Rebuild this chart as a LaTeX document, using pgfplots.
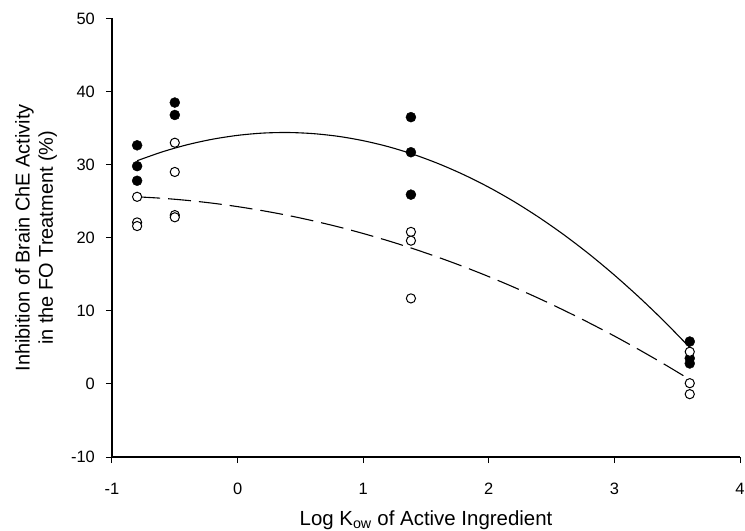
\documentclass[border=0pt]{standalone}
\usepackage{fontspec}
\setmainfont{Liberation Sans}
\usepackage{pgfplots}
\pgfplotsset{compat=1.18}
\begin{document}
\begin{tikzpicture}
\path[use as bounding box] (-112bp,-74bp) rectangle (633bp,457bp);
\begin{axis}[
  at={(0,0)}, anchor=south west,
  scale only axis, width=628bp, height=438.5bp,
  xmin=-1, xmax=4, ymin=-10, ymax=50,
  axis lines*=left,
  xtick={-1,0,1,2,3,4}, xticklabels={-1,0,1,2,3,4},
  ytick={-10,0,10,20,30,40,50}, yticklabels={-10,0,10,20,30,40,50},
  tick align=outside, major tick length=6bp,
  tick style={black, line width=1bp},
  axis line style={black, line width=1.2bp},
  tick label style={font=\fontsize{16.5}{19}\selectfont, inner sep=0pt},
  xticklabel style={font=\fontsize{16.5}{19}\selectfont, anchor=base, yshift=-31.3bp},
  yticklabel style={font=\fontsize{16.5}{19}\selectfont, anchor=east, xshift=-11bp},
  xlabel={Log K\textsubscript{ow} of Active Ingredient},
  xlabel style={at={([yshift=-68bp]axis description cs:0.5,0)}, anchor=base, font=\fontsize{20.5}{24}\selectfont},
  ylabel={Inhibition of Brain ChE Activity\\in the FO Treatment (\%)},
  ylabel style={at={([xshift=-59bp]axis description cs:0,0.5)}, anchor=base, align=center, font=\fontsize{20}{23.4}\selectfont},
]
% filled circles
\addplot[only marks, mark=*, mark size=5bp, mark options={fill=black, draw=black}] coordinates {
 (-0.8,32.65) (-0.8,29.8) (-0.8,27.8)
 (-0.5,38.5) (-0.5,36.8)
 (1.38,36.5) (1.38,31.7) (1.38,25.9)
 (3.6,5.8) (3.6,3.5) (3.6,2.8)
};
% open circles
\addplot[only marks, mark=*, mark size=4.6bp, mark options={fill=white, draw=black, line width=1bp}] coordinates {
 (-0.8,25.6) (-0.8,22.1) (-0.8,21.6)
 (-0.5,33.0) (-0.5,29.0) (-0.5,23.1) (-0.5,22.8)
 (1.38,20.8) (1.38,19.6) (1.38,11.7)
 (3.6,4.4) (3.6,0.1) (3.6,-1.4)
};
% regression for filled
\addplot[black, line width=1.1bp, smooth] coordinates {
 (-0.8,30.54) (-0.6,31.75) (-0.4,32.73) (-0.2,33.48) (0.0,34.01) (0.2,34.32)
 (0.4,34.40) (0.6,34.25) (0.8,33.88) (1.0,33.28) (1.2,32.46) (1.4,31.41)
 (1.6,30.13) (1.8,28.63) (2.0,26.91) (2.2,24.96) (2.4,22.78) (2.6,20.38)
 (2.8,17.75) (3.0,14.89) (3.2,11.81) (3.4,8.51) (3.6,4.98)
};
% regression for open
\addplot[black, line width=1.1bp, smooth, dash pattern=on 23bp off 8bp] coordinates {
 (-0.8,25.60) (-0.6,25.40) (-0.4,25.11) (-0.2,24.73) (0.0,24.26) (0.2,23.70)
 (0.4,23.06) (0.6,22.32) (0.8,21.50) (1.0,20.58) (1.2,19.58) (1.4,18.49)
 (1.6,17.31) (1.8,16.04) (2.0,14.68) (2.2,13.23) (2.4,11.69) (2.6,10.06)
 (2.8,8.35) (3.0,6.55) (3.2,4.65) (3.4,2.67) (3.6,0.60)
};
\end{axis}
\end{tikzpicture}
\end{document}
